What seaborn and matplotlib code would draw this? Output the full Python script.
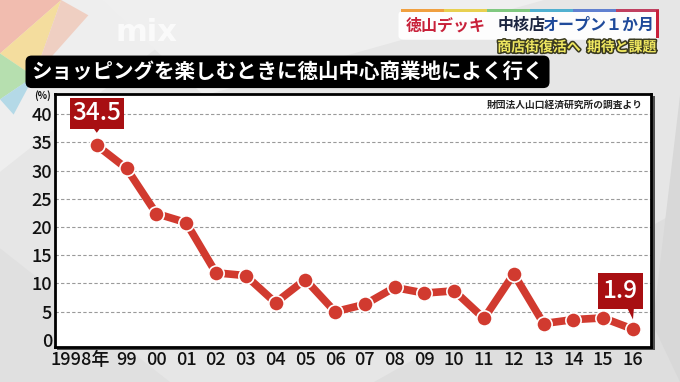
import numpy as np
import pandas as pd
import seaborn as sns
import matplotlib.pyplot as plt
import matplotlib.transforms as mtransforms
from matplotlib.patches import FancyBboxPatch, Rectangle, Polygon
import matplotlib.patheffects as pe

# data
years = [1998, 1999, 2000, 2001, 2002, 2003, 2004, 2005, 2006, 2007,
         2008, 2009, 2010, 2011, 2012, 2013, 2014, 2015, 2016]
share = [34.5, 30.4, 22.4, 20.8, 11.9, 11.4, 6.6, 10.7, 5.0, 6.3,
         9.3, 8.3, 8.7, 3.8, 11.7, 2.9, 3.6, 3.9, 1.9]
year_labels = ["1998年", "99", "00", "01", "02", "03", "04", "05", "06", "07",
               "08", "09", "10", "11", "12", "13", "14", "15", "16"]
y_ticks = [0, 5, 10, 15, 20, 25, 30, 35, 40]

title = "ショッピングを楽しむときに徳山中心商業地によく行く"
source = "財団法人山口経済研究所の調査より"

sns.set_theme(style="white")
plt.rcParams["font.family"] = ["Noto Sans CJK JP", "DejaVu Sans"]
plt.rcParams["font.weight"] = "bold"

RED = "#d13a2f"
DARK_RED = "#a80f12"

fig = plt.figure(figsize=(6.8, 3.82), dpi=100)
fig.patch.set_facecolor("#e6e6e6")

# faint low-poly background
bg = [
    ([(0.0, 1.0), (0.32, 1.0), (0.0, 0.55)], "#eeeeee"),
    ([(0.15, 1.0), (0.80, 1.0), (0.30, 0.75)], "#efefef"),
    ([(0.55, 0.0), (1.0, 0.0), (1.0, 0.45)], "#dedede"),
    ([(0.0, 0.0), (0.25, 0.0), (0.0, 0.35)], "#e0e0e0"),
    ([(0.96, 0.15), (1.0, 0.75), (1.0, 0.0)], "#d8d8d8"),
]
for pts, c in bg:
    fig.patches.append(Polygon(pts, closed=True, fc=c, ec="none",
                               transform=fig.transFigure, zorder=-3))
# colourful corner logo
logo = [
    ([(0.0, 1.0), (0.09, 1.0), (0.0, 0.86)], "#f3b0a0"),
    ([(0.0, 0.86), (0.09, 1.0), (0.05, 0.80)], "#f6d98a"),
    ([(0.0, 0.86), (0.05, 0.80), (0.0, 0.74)], "#a8dca0"),
    ([(0.09, 1.0), (0.13, 0.96), (0.05, 0.80)], "#f0c8b8"),
    ([(0.0, 0.74), (0.05, 0.80), (0.02, 0.70)], "#a6d4e6"),
]
for pts, c in logo:
    fig.patches.append(Polygon(pts, closed=True, fc=c, ec="none", alpha=0.8,
                               transform=fig.transFigure, zorder=-2))
fig.text(0.17, 0.915, "mix", color="white", alpha=0.75, fontsize=22,
         family=["DejaVu Sans"], fontweight="bold", ha="left", va="center")

# header box
fig.patches.append(FancyBboxPatch((0.590, 0.900), 0.375, 0.068,
                                  boxstyle="round,pad=0.004,rounding_size=0.01",
                                  fc="white", ec="none", alpha=0.95,
                                  transform=fig.transFigure, zorder=-1))
stripe = ["#f0a040", "#e8d050", "#80c880", "#50b0d0", "#6080d0", "#c04060"]
for i, c in enumerate(stripe):
    fig.patches.append(Rectangle((0.590 + i * 0.0632, 0.968), 0.0632, 0.008, fc=c,
                                 ec="none", transform=fig.transFigure, zorder=-1))
fig.patches.append(Rectangle((0.965, 0.900), 0.004, 0.075, fc="#c8213a", ec="none",
                             transform=fig.transFigure, zorder=-1))
fig.text(0.597, 0.934, "徳山デッキ", color="#c8213a", fontsize=11.5, va="center")
fig.text(0.802, 0.934, "中核店", color="#1c2540", fontsize=11.5, va="center", ha="right")
fig.text(0.962, 0.934, "オープン１か月", color="#1f4a9a", fontsize=11.5, va="center",
         ha="right")
fig.text(0.965, 0.876, "商店街復活へ  期待と課題", color="#f0e860", fontsize=10,
         ha="right", va="center",
         path_effects=[pe.withStroke(linewidth=2.2, foreground="#3a3a20")])

# title bar
fig.text(0.046, 0.812, title, color="white", fontsize=14.8, ha="left", va="center",
         bbox=dict(boxstyle="round,pad=0.28,rounding_size=0.3", fc="black", ec="none"))

# plot area
ax = fig.add_axes([0.081, 0.091, 0.877, 0.663])
fig.patches.append(Rectangle((0.084, 0.083), 0.879, 0.665, fc="#505050", ec="none",
                             transform=fig.transFigure, zorder=-1))
ax.set_facecolor("white")

df = pd.DataFrame({"year": years, "share": share})
sns.lineplot(data=df, x="year", y="share", ax=ax, color=RED, linewidth=5.5,
             marker="o", markersize=11, markeredgecolor="white",
             markeredgewidth=1.2, zorder=3)

ax.set_xlim(1996.6, 2016.62)
ax.set_ylim(-1.3, 43.6)
ax.set_yticks(y_ticks)
ax.set_yticklabels([str(v) for v in y_ticks])
ax.set_xticks(years)
ax.set_xticklabels(year_labels)
ax.tick_params(axis="both", length=0, labelsize=13, colors="#111111")
ax.tick_params(axis="y", pad=2)
ax.tick_params(axis="x", pad=3)
# shift the first label so "1998" sits under its point
first = ax.get_xticklabels()[0]
first.set_transform(first.get_transform() +
                    mtransforms.ScaledTranslation(-12 / 72, 0, fig.dpi_scale_trans))
for t in ax.get_xticklabels() + ax.get_yticklabels():
    t.set_fontweight("medium")

for v in y_ticks[1:]:
    ax.axhline(v, color="#9a9a9a", linestyle=(0, (3, 2)), linewidth=0.8, zorder=1)

for s in ax.spines.values():
    s.set_color("black")
    s.set_linewidth(2)
ax.set_xlabel("")
ax.set_ylabel("")

fig.text(0.062, 0.735, "(%)", fontsize=7, ha="center", va="bottom", color="#111111")
ax.text(0.985, 0.975, source, transform=ax.transAxes, fontsize=7, ha="right",
        va="top", color="#222222")

# value call-outs
def point_trans(x, y):
    return (mtransforms.Affine2D().scale(fig.dpi / 72)
            + mtransforms.ScaledTranslation(x, y, ax.transData))

x0, y0 = years[0], share[0]
ax.annotate(f"{y0}", xy=(x0, y0), xytext=(0, 23), textcoords="offset points",
            ha="center", va="center", color="white", fontsize=17.5, fontweight="medium",
            bbox=dict(boxstyle="square,pad=0.1", fc=DARK_RED, ec="none"), zorder=5)
ax.add_patch(Polygon([(-4, 14.5), (4, 14.5), (0, 9)], closed=True, fc=DARK_RED,
                     ec="none", transform=point_trans(x0, y0), zorder=5, clip_on=False))

x1, y1 = years[-1], share[-1]
ax.annotate(f"{y1}", xy=(x1, y1), xytext=(-9, 27.5), textcoords="offset points",
            ha="center", va="center", color="white", fontsize=17.5, fontweight="medium",
            bbox=dict(boxstyle="square,pad=0.22", fc=DARK_RED, ec="none"), zorder=5)
ax.add_patch(Polygon([(-6, 19), (1, 19), (0, 7)], closed=True, fc=DARK_RED,
                     ec="none", transform=point_trans(x1, y1), zorder=5, clip_on=False))

fig.savefig("out.png", dpi=100)
